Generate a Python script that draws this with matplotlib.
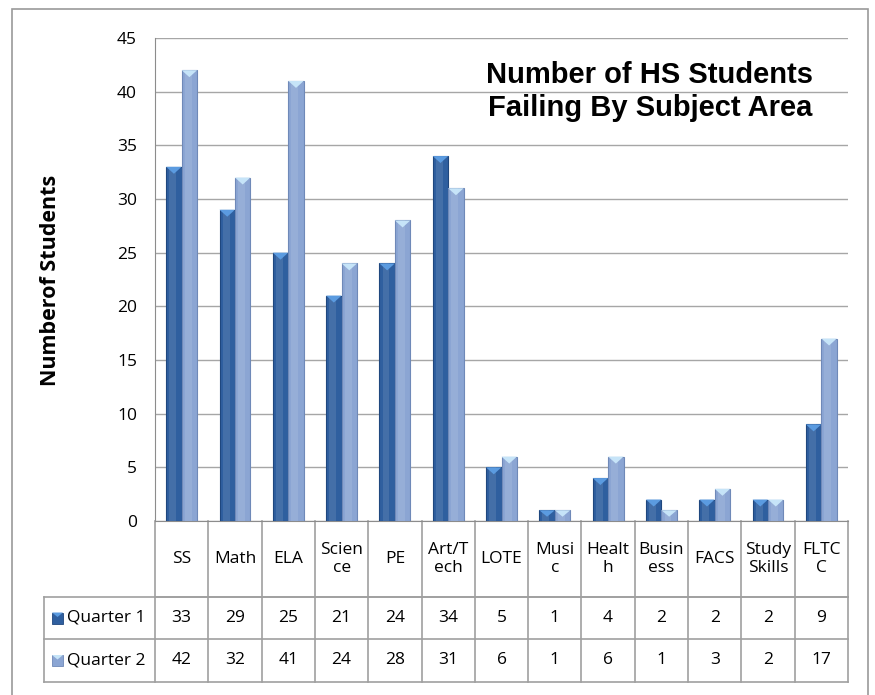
import matplotlib.pyplot as plt
import numpy as np
from matplotlib.patches import Rectangle, Polygon
from matplotlib.transforms import blended_transform_factory

subjects = ["SS", "Math", "ELA", "Scien\nce", "PE", "Art/T\nech", "LOTE",
            "Musi\nc", "Healt\nh", "Busin\ness", "FACS", "Study\nSkills", "FLTC\nC"]
quarter1 = [33, 29, 25, 21, 24, 34, 5, 1, 4, 2, 2, 2, 9]
quarter2 = [42, 32, 41, 24, 28, 31, 6, 1, 6, 1, 3, 2, 17]
series_names = ["Quarter 1", "Quarter 2"]
yticks = [0, 5, 10, 15, 20, 25, 30, 35, 40, 45]

body_colors = ["#2f5f9f", "#8ba5d3"]
cap_colors = ["#5b9be0", "#c6e4f8"]
edge_colors = ["#1f477e", "#6f89b8"]
font = "Open Sans"


def main():
    W, H = 875, 695
    fig = plt.figure(figsize=(W / 100, H / 100), dpi=100)
    # plot area in pixels: x 155..848, y 38..521
    ax = fig.add_axes([155 / W, (H - 521) / H, (848 - 155) / W, (521 - 38) / H])
    n = len(subjects)
    x = np.arange(n)
    bw = 0.29
    cap_h = 0.65  # height of the pyramid cap in data units

    for k, vals in enumerate([quarter1, quarter2]):
        offs = -bw / 2 if k == 0 else bw / 2
        for xi, v in zip(x, vals):
            left = xi + offs - bw / 2
            ax.add_patch(Rectangle((left, 0), bw, v, facecolor=body_colors[k],
                                   edgecolor=edge_colors[k], lw=0.8, zorder=3))
            # lighter strip for a bit of shading
            ax.add_patch(Rectangle((left + bw * 0.2, 0), bw * 0.45, v,
                                   facecolor="white", alpha=0.1, lw=0, zorder=3))
            top = v
            ch = min(cap_h, v * 0.6)
            ax.add_patch(Polygon([(left, top), (left + bw, top), (left + bw / 2, top - ch)],
                                 closed=True, facecolor=cap_colors[k], edgecolor="none", zorder=4))

    ax.set_xlim(-0.5, n - 0.5)
    ax.set_ylim(0, 45)
    ax.set_yticks(yticks)
    ax.set_xticks([])
    ax.yaxis.grid(True, color="#a6a6a6", lw=1.0)
    ax.set_axisbelow(True)
    ax.tick_params(axis="y", length=0, pad=13, labelsize=12.5)
    for lab in ax.get_yticklabels():
        lab.set_fontfamily(font)
    for s in ["top", "right"]:
        ax.spines[s].set_visible(False)
    ax.spines["left"].set_color("#8c8c8c")
    ax.spines["bottom"].set_color("#8c8c8c")

    fig.text(51 / W, 1 - 280 / H, "Numberof Students", rotation=90, ha="center", va="center",
             fontsize=15.5, fontweight="bold", fontfamily=font)

    # title
    fig.text(650 / W, 1 - 75 / H, "Number of HS Students", ha="center", va="center",
             fontsize=21, fontweight="bold", fontfamily="Liberation Sans")
    fig.text(650 / W, 1 - 108 / H, "Failing By Subject Area", ha="center", va="center",
             fontsize=21, fontweight="bold", fontfamily="Liberation Sans")

    # data table under the plot
    tr = blended_transform_factory(ax.transData, ax.transAxes)
    ph = 521 - 38
    y_head = -(597 - 521) / ph
    y_r1 = -(639 - 521) / ph
    y_r2 = -(682 - 521) / ph
    lab_left = (44 - 155) / (848 - 155)
    gc = "#a0a0a0"
    kw = dict(color=gc, lw=1.2, clip_on=False)
    # horizontal lines
    ax.plot([-0.5, n - 0.5], [y_head, y_head], transform=tr, **kw)
    ax.plot([lab_left, 1], [y_head, y_head], transform=ax.transAxes, **kw)
    ax.plot([lab_left, 1], [y_r1, y_r1], transform=ax.transAxes, **kw)
    ax.plot([lab_left, 1], [y_r2, y_r2], transform=ax.transAxes, **kw)
    ax.plot([lab_left, lab_left], [y_head, y_r2], transform=ax.transAxes, **kw)
    for i in range(n + 1):
        ax.plot([i - 0.5, i - 0.5], [0, y_r2], transform=tr, **kw)

    fs = 12.5
    for i, s in enumerate(subjects):
        ax.text(i, y_head / 2, s, transform=tr, ha="center", va="center",
                fontsize=fs, fontfamily=font, linespacing=1.25)
        ax.text(i, (y_head + y_r1) / 2, str(quarter1[i]), transform=tr, ha="center",
                va="center", fontsize=fs, fontfamily=font)
        ax.text(i, (y_r1 + y_r2) / 2, str(quarter2[i]), transform=tr, ha="center",
                va="center", fontsize=fs, fontfamily=font)

    for k, (y0, y1) in enumerate([(y_head, y_r1), (y_r1, y_r2)]):
        ym = (y0 + y1) / 2
        fig_x = 52 / W
        sq = 11
        ypx = ax.transAxes.transform((0, ym))[1]
        fig.patches.append(Rectangle((fig_x, (ypx - sq / 2) / H), sq / W, sq / H,
                                     transform=fig.transFigure, facecolor=body_colors[k],
                                     edgecolor=edge_colors[k], lw=0.6))
        fig.patches.append(Polygon([(fig_x, (ypx + sq / 2) / H), (fig_x + sq / W, (ypx + sq / 2) / H),
                                    (fig_x + sq / 2 / W, (ypx + 1) / H)], closed=True,
                                   transform=fig.transFigure, facecolor=cap_colors[k],
                                   edgecolor="none"))
        fig.text(67 / W, ypx / H, series_names[k], ha="left", va="center",
                 fontsize=fs, fontfamily=font)

    # outer chart border
    fig.patches.append(Rectangle((12 / W, -0.05), (868 - 12) / W, 1.05 - 9 / H,
                                 transform=fig.transFigure, fill=False,
                                 edgecolor="#9a9a9a", lw=1.2))

    fig.savefig("out.png", dpi=100)


if __name__ == '__main__':
    main()
